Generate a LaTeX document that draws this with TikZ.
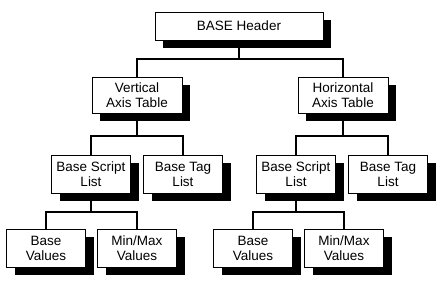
\documentclass[tikz,border=0pt]{standalone}
\usepackage{fontspec}
\setmainfont{Liberation Sans}
\usetikzlibrary{shadows}

\begin{document}
\begin{tikzpicture}[x=1pt,y=-1pt]
\tikzset{
  tablebox/.style={rectangle,draw,line width=1pt,fill=white,inner sep=0pt,
    align=center,font=\fontsize{13.5}{15}\selectfont,
    drop shadow={shadow xshift=8pt,shadow yshift=-8pt,fill=black,opacity=1}},
  widebox/.style={tablebox,minimum width=168pt,minimum height=28pt},
  midbox/.style={tablebox,minimum width=90pt,minimum height=36pt},
  smallbox/.style={tablebox,minimum width=79pt,minimum height=38pt},
  link/.style={line width=2pt}
}
\useasboundingbox (0,0) rectangle (440,290);
\node[widebox] (n_header) at (239,26) {BASE Header};
\node[midbox] (n_vat) at (137,95) {Vertical\\Axis Table};
\node[midbox] (n_hat) at (343,95) {Horizontal\\Axis Table};
\node[smallbox] (n_bsl1) at (91,174) {Base Script\\List};
\node[smallbox] (n_btl1) at (183,174) {Base Tag\\List};
\node[smallbox] (n_bsl2) at (296,174) {Base Script\\List};
\node[smallbox] (n_btl2) at (388,174) {Base Tag\\List};
\node[smallbox] (n_bv1) at (46,248) {Base\\Values};
\node[smallbox] (n_mm1) at (137,248) {Min/Max\\Values};
\node[smallbox] (n_bv2) at (253,248) {Base\\Values};
\node[smallbox] (n_mm2) at (344,248) {Min/Max\\Values};
\draw[link] (n_header.south) -- ++(0,18) -| (n_vat.north);
\draw[link] (n_header.south) -- ++(0,18) -| (n_hat.north);
\draw[link] (n_vat.south) -- ++(0,22) -| (n_bsl1.north);
\draw[link] (n_vat.south) -- ++(0,22) -| (n_btl1.north);
\draw[link] (n_hat.south) -- ++(0,22) -| (n_bsl2.north);
\draw[link] (n_hat.south) -- ++(0,22) -| (n_btl2.north);
\draw[link] (n_bsl1.south) -- ++(0,18) -| (n_bv1.north);
\draw[link] (n_bsl1.south) -- ++(0,18) -| (n_mm1.north);
\draw[link] (n_bsl2.south) -- ++(0,18) -| (n_bv2.north);
\draw[link] (n_bsl2.south) -- ++(0,18) -| (n_mm2.north);
\end{tikzpicture}
\end{document}
